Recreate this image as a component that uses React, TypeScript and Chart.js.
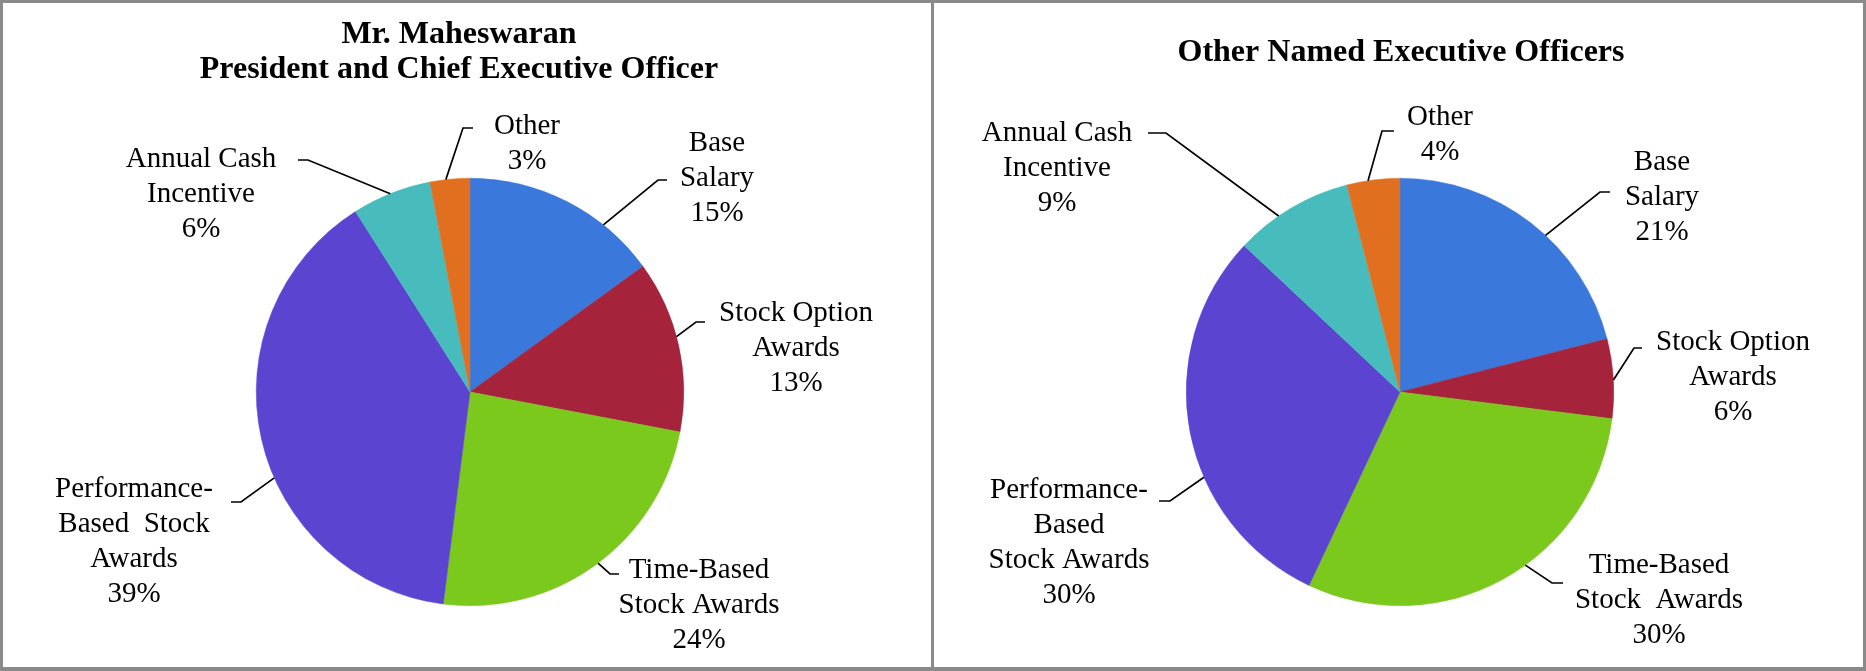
import React, { useEffect, useRef } from "react";
import { Chart, registerables } from "chart.js";

Chart.register(...registerables);

// ---------- data ----------
const categories = [
  "Base Salary",
  "Stock Option Awards",
  "Time-Based Stock Awards",
  "Performance-Based Stock Awards",
  "Annual Cash Incentive",
  "Other",
];
const ceoValues = [15, 13, 24, 39, 6, 3];
const neoValues = [21, 6, 30, 30, 9, 4];
const ceoTitle = ["Mr. Maheswaran", "President and Chief Executive Officer"];
const neoTitle = ["Other Named Executive Officers"];
const ceoLabelLines = [
  ["Base", "Salary"],
  ["Stock Option", "Awards"],
  ["Time-Based", "Stock Awards"],
  ["Performance-", "Based  Stock", "Awards"],
  ["Annual Cash", "Incentive"],
  ["Other"],
];
const neoLabelLines = [
  ["Base", "Salary"],
  ["Stock Option", "Awards"],
  ["Time-Based", "Stock  Awards"],
  ["Performance-", "Based", "Stock Awards"],
  ["Annual Cash", "Incentive"],
  ["Other"],
];

// ---------- styles / layout ----------
const sliceColors = ["#3A78DC", "#A5243C", "#7AC91C", "#5A44D0", "#48BCBC", "#E07020"];
const PANEL_W = 933;
const PAGE_H = 671;
const BORDER = "#8a8a8a";
const LABEL_FONT = "29px 'Liberation Serif', 'Times New Roman', serif";
const TITLE_FONT = "bold 32px 'Liberation Serif', 'Times New Roman', serif";
const LINE_H = 35;

type LabelPos = { tx: number; ty: number; edge: number; ex: number; ey: number; hx: number; hy: number };

// offsets relative to pie centre; edge = angle (deg, clockwise from top) where leader touches pie
const ceoLabelPos: LabelPos[] = [
  { tx: 247, ty: -249, edge: 38.6, ex: 188, ey: -212, hx: 197, hy: -212 },
  { tx: 326, ty: -79, edge: 75, ex: 226, ey: -70, hx: 235, hy: -70 },
  { tx: 229, ty: 178, edge: 143.2, ex: 140, ey: 182, hx: 149, hy: 182 },
  { tx: -336, ty: 97, edge: 246.3, ex: -229, ey: 110, hx: -239, hy: 110 },
  { tx: -269, ty: -233, edge: 338.1, ex: -162, ey: -232, hx: -172, hy: -232 },
  { tx: 57, ty: -266, edge: 353.5, ex: -7, ey: -264, hx: 3, hy: -264 },
];
const neoLabelPos: LabelPos[] = [
  { tx: 262, ty: -230, edge: 42.9, ex: 200, ey: -200, hx: 210, hy: -200 },
  { tx: 333, ty: -50, edge: 86.8, ex: 234, ey: -44, hx: 242, hy: -44 },
  { tx: 259, ty: 173, edge: 144.1, ex: 152, ey: 191, hx: 163, hy: 191 },
  { tx: -331, ty: 98, edge: 246.5, ex: -230, ey: 109, hx: -241, hy: 109 },
  { tx: -343, ty: -259, edge: 325.4, ex: -234, ey: -259, hx: -252, hy: -259 },
  { tx: 40, ty: -275, edge: 351.4, ex: -18, ey: -261, hx: -6, hy: -261 },
];

type PanelCfg = {
  values: number[];
  lines: string[][];
  pos: LabelPos[];
  title: string[];
  titleX: number;
  titleY: number;
  titleLH: number;
  padding: { left: number; right: number; top: number; bottom: number };
};

const ceoCfg: PanelCfg = {
  values: ceoValues,
  lines: ceoLabelLines,
  pos: ceoLabelPos,
  title: ceoTitle,
  titleX: 459,
  titleY: 35,
  titleLH: 35,
  padding: { left: 256, right: PANEL_W - 684, top: 178, bottom: PAGE_H - 606 },
};
const neoCfg: PanelCfg = {
  values: neoValues,
  lines: neoLabelLines,
  pos: neoLabelPos,
  title: neoTitle,
  titleX: 468,
  titleY: 53,
  titleLH: 35,
  padding: { left: 253, right: PANEL_W - 681, top: 178, bottom: PAGE_H - 606 },
};

function PiePanel({ cfg, left }: { cfg: PanelCfg; left: number }) {
  const ref = useRef<HTMLCanvasElement | null>(null);
  useEffect(() => {
    if (!ref.current) return;
    const labelPlugin = {
      id: "calloutLabels",
      afterDraw(chart: any) {
        const ctx = chart.ctx as CanvasRenderingContext2D;
        const meta = chart.getDatasetMeta(0);
        const arc = meta.data[0];
        const { x, y, outerRadius } = arc.getProps(["x", "y", "outerRadius"], true);
        ctx.save();
        // title
        ctx.fillStyle = "#000";
        ctx.font = TITLE_FONT;
        ctx.textAlign = "center";
        ctx.textBaseline = "middle";
        cfg.title.forEach((t, i) => ctx.fillText(t, cfg.titleX, cfg.titleY + i * cfg.titleLH));
        // labels
        ctx.font = LABEL_FONT;
        ctx.strokeStyle = "#000";
        ctx.lineWidth = 1.7;
        cfg.values.forEach((v, i) => {
          const p = cfg.pos[i];
          const a = (p.edge * Math.PI) / 180;
          ctx.beginPath();
          ctx.moveTo(x + outerRadius * Math.sin(a), y - outerRadius * Math.cos(a));
          ctx.lineTo(x + p.ex, y + p.ey);
          ctx.lineTo(x + p.hx, y + p.hy);
          ctx.stroke();
          const lines = [...cfg.lines[i], `${v}%`];
          lines.forEach((ln, k) => ctx.fillText(ln, x + p.tx, y + p.ty + k * LINE_H));
        });
        ctx.restore();
      },
    };
    const chart = new Chart(ref.current, {
      type: "pie",
      data: {
        labels: categories,
        datasets: [
          {
            data: cfg.values,
            backgroundColor: sliceColors,
            borderColor: sliceColors,
            borderWidth: 0.5,
          },
        ],
      },
      options: {
        responsive: false,
        animation: false,
        devicePixelRatio: 1,
        layout: { padding: cfg.padding },
        plugins: {
          legend: { display: false },
          tooltip: { enabled: false },
          title: { display: false },
        },
        events: [],
      },
      plugins: [labelPlugin],
    });
    return () => chart.destroy();
  }, [cfg]);
  return (
    <canvas
      ref={ref}
      width={PANEL_W}
      height={PAGE_H}
      style={{ position: "absolute", left, top: 0, width: PANEL_W, height: PAGE_H }}
    />
  );
}

export default function App() {
  return (
    <div
      style={{
        position: "absolute",
        left: 0,
        top: 0,
        width: 1866,
        height: PAGE_H,
        background: "#fff",
        overflow: "hidden",
      }}
    >
      <PiePanel cfg={ceoCfg} left={0} />
      <PiePanel cfg={neoCfg} left={933} />
      <div
        style={{
          position: "absolute",
          left: 0,
          top: 0,
          width: 1866,
          height: PAGE_H,
          boxSizing: "border-box",
          borderTop: `3px solid ${BORDER}`,
          borderLeft: `3px solid ${BORDER}`,
          borderRight: `3px solid ${BORDER}`,
          borderBottom: `4px solid ${BORDER}`,
          pointerEvents: "none",
        }}
      />
      <div
        style={{
          position: "absolute",
          left: 931,
          top: 0,
          width: 3,
          height: PAGE_H,
          background: BORDER,
          pointerEvents: "none",
        }}
      />
    </div>
  );
}
